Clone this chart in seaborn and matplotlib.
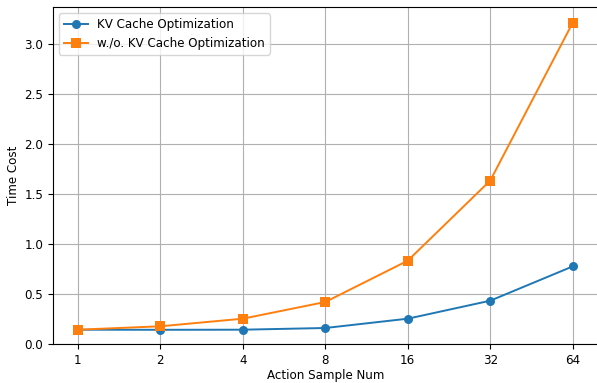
import matplotlib
matplotlib.use("Agg")
import matplotlib.pyplot as plt
import seaborn as sns
import pandas as pd

sample_nums = [1, 2, 4, 8, 16, 32, 64]
kv_cache = [0.143, 0.142, 0.143, 0.160, 0.253, 0.433, 0.776]
no_kv_cache = [0.143, 0.177, 0.253, 0.420, 0.833, 1.634, 3.213]
series_names = ["KV Cache Optimization", "w./o. KV Cache Optimization"]

df = pd.concat([
    pd.DataFrame({"x": sample_nums, "y": kv_cache, "series": series_names[0]}),
    pd.DataFrame({"x": sample_nums, "y": no_kv_cache, "series": series_names[1]}),
])

fs = 8.6
plt.rcParams['font.family'] = ['DejaVu Sans']
plt.rcParams['font.size'] = fs
fig = plt.figure(figsize=(5.97, 3.83), dpi=100)
ax = fig.add_axes([53 / 597, 39 / 383, 544.5 / 597, 336.7 / 383])

sns.lineplot(data=df, x="x", y="y", hue="series", style="series",
             markers=["o", "s"], dashes=False, palette=["#1f77b4", "#ff7f0e"],
             markersize=6.5, markeredgewidth=0, linewidth=1.4, ax=ax)

ax.set_xscale("log", base=2)
ax.set_xticks(sample_nums)
ax.set_xticklabels([str(v) for v in sample_nums])
ax.minorticks_off()
ax.set_ylim(bottom=0)
ax.grid(True, color="#b0b0b0", linewidth=0.8)
ax.set_axisbelow(True)
ax.set_xlabel("Action Sample Num", fontsize=fs, labelpad=1.8)
ax.set_ylabel("Time Cost", fontsize=fs, labelpad=3.5)
ax.tick_params(labelsize=fs)
ax.legend(loc="upper left", fontsize=fs)

fig.savefig("out.png", dpi=100)
